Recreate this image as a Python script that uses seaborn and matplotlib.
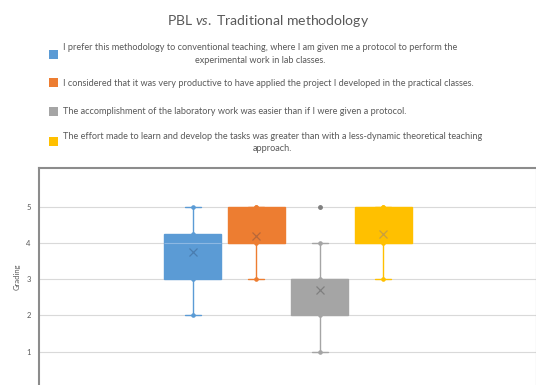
import pandas as pd
import seaborn as sns
import matplotlib.pyplot as plt
from matplotlib.patches import Rectangle

# Survey statements (legend text)
labels = [
    "I prefer this methodology to conventional teaching, where I am given me a protocol to perform the\nexperimental work in lab classes.",
    "I considered that it was very productive to have applied the project I developed in the practical classes.",
    "The accomplishment of the laboratory work was easier than if I were given a protocol.",
    "The effort made to learn and develop the tasks was greater than with a less-dynamic theoretical teaching\napproach.",
]
keys = ["S1", "S2", "S3", "S4"]
colors = ["#5B9BD5", "#ED7D31", "#A5A5A5", "#FFC000"]
mean_colors = ["#4A7DB0", "#B8683A", "#7F7F7F", "#C9A040"]
median_colors = ["#8DB8E3", "#ED7D31", "#A5A5A5", "#FFC000"]

# Gradings (1-5)
grades_s1 = [2, 3, 3, 3, 3, 3, 3, 4, 4, 4, 4, 4, 5, 5, 5, 5]
grades_s2 = [3, 3, 4, 4, 4, 4, 4, 5, 5, 5, 5]
grades_s3 = [1, 2, 2, 2, 2, 2, 3, 3, 3, 3, 3, 4, 5]
grades_s4 = [3, 4, 4, 4, 4, 4, 4, 4, 4, 4, 4, 4, 5, 5, 5, 5, 5]
ytick_vals = [1, 2, 3, 4, 5]

rows = []
for k, g in zip(keys, [grades_s1, grades_s2, grades_s3, grades_s4]):
    for v in g:
        rows.append({"item": k, "grade": v})
df = pd.DataFrame(rows)

sns.set_style("white")
plt.rcParams["font.family"] = ["Lato", "DejaVu Sans"]
plt.rcParams["mathtext.fontset"] = "custom"
plt.rcParams["mathtext.rm"] = "Lato"
plt.rcParams["mathtext.it"] = "Lato:italic"

W, H = 536, 385
fig = plt.figure(figsize=(W / 100, H / 100), dpi=100)
ax = fig.add_axes([39 / W, 0, (537 - 39) / W, 1 - 168 / H])

# one call per series so whiskers/edges take the series colour
for k, col, mc, mdc in zip(keys, colors, mean_colors, median_colors):
    sub = df[df["item"] == k]
    sns.boxplot(data=sub, x="item", y="grade", order=keys, color=col,
                saturation=1, width=0.9, linecolor=col, linewidth=1, whis=1.5,
                showmeans=True, capwidths=0.25,
                meanprops=dict(marker="x", markeredgecolor=mc, markersize=6,
                               markeredgewidth=0.9),
                medianprops=dict(color=mdc, linewidth=0.8),
                whiskerprops=dict(marker="o", markersize=2.3, markerfacecolor=col),
                flierprops=dict(marker="o", markersize=2.5, markerfacecolor="#7F7F7F",
                                markeredgecolor="#7F7F7F"),
                ax=ax)

# boxes are ~63.5 px apart, group centred in the plot area
span = (537 - 39) / 63.5
ax.set_xlim(1.5 - span / 2, 1.5 + span / 2)
ax.set_ylim(0.08, 6.07)
ax.set_yticks(ytick_vals)
ax.set_yticklabels([str(v) for v in ytick_vals], fontsize=5.5, color="#595959")
ax.tick_params(axis="y", length=0, pad=6)
ax.set_xticks([])
ax.set_xlabel("")
ax.set_ylabel("Grading", fontsize=5.5, color="#595959", labelpad=4)
ax.yaxis.grid(True, color="#D9D9D9", linewidth=0.8)
ax.set_axisbelow(True)
for side in ["left", "top", "right"]:
    ax.spines[side].set_color("#8C8C8C")
    ax.spines[side].set_linewidth(1.5)
ax.spines["bottom"].set_visible(False)

# Title
fig.text(268 / W, 1 - 21 / H, "PBL $\\mathit{vs.}$ Traditional methodology",
         ha="center", va="center", fontsize=10.1, color="#595959")

# Legend-like list of statements
text_y = [54, 83, 112, 142.5]
box_y = [54, 82, 111, 142]
for lab, col, ty, by in zip(labels, colors, text_y, box_y):
    fig.patches.append(Rectangle((49 / W, 1 - (by + 4.5) / H), 9 / W, 9 / H,
                                 transform=fig.transFigure, facecolor=col,
                                 edgecolor="none"))
    fig.text(63 / W, 1 - ty / H, lab, ha="left", va="center",
             multialignment="center", fontsize=6.6, color="#595959",
             linespacing=1.45)

fig.savefig("out.png", dpi=100)
